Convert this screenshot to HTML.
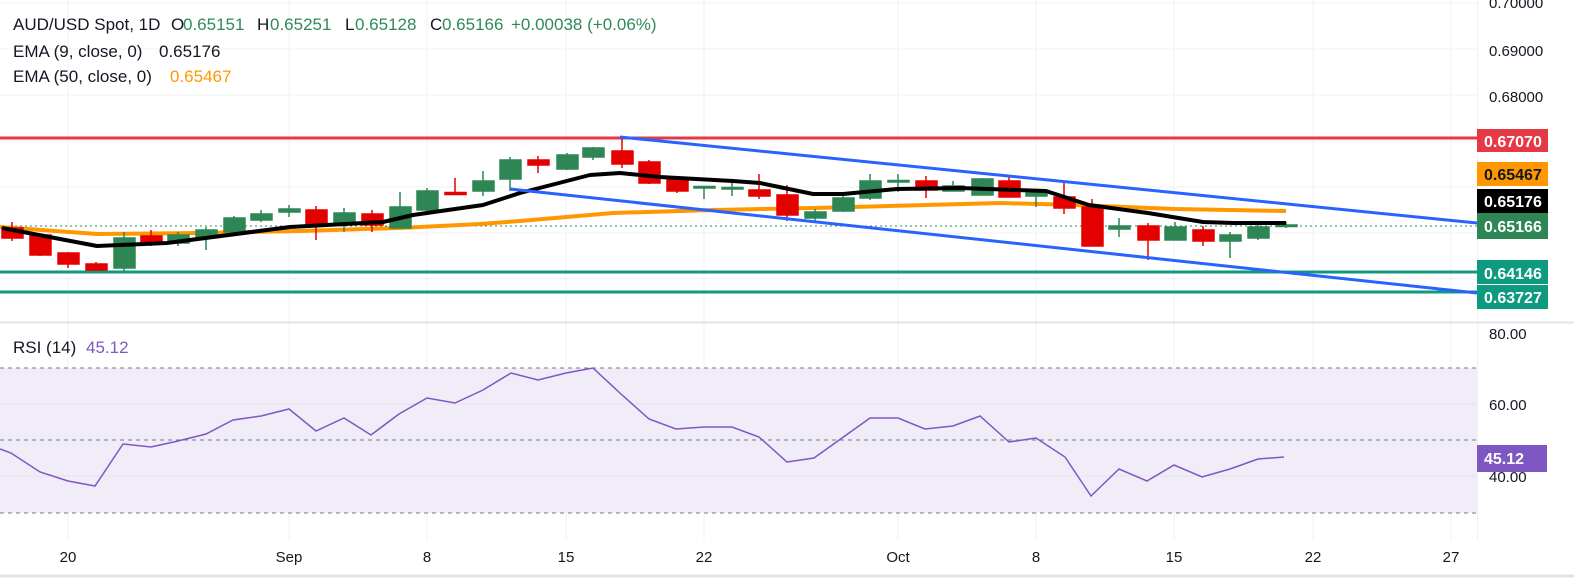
<!DOCTYPE html>
<html><head><meta charset="utf-8"><style>
html,body{margin:0;padding:0;background:#fff;}
svg{display:block;font-family:"Liberation Sans",sans-serif;}
</style></head><body>
<svg width="1574" height="578" viewBox="0 0 1574 578" xmlns="http://www.w3.org/2000/svg">
<rect width="1574" height="578" fill="#fff"/>
<g stroke="#f0f0f3" stroke-width="1">
<line x1="68" y1="0" x2="68" y2="540"/><line x1="289" y1="0" x2="289" y2="540"/><line x1="427" y1="0" x2="427" y2="540"/><line x1="566" y1="0" x2="566" y2="540"/><line x1="704" y1="0" x2="704" y2="540"/><line x1="898" y1="0" x2="898" y2="540"/><line x1="1036" y1="0" x2="1036" y2="540"/><line x1="1174" y1="0" x2="1174" y2="540"/><line x1="1313" y1="0" x2="1313" y2="540"/><line x1="1451" y1="0" x2="1451" y2="540"/>
<line x1="0" y1="3" x2="1477" y2="3"/><line x1="0" y1="49" x2="1477" y2="49"/><line x1="0" y1="95" x2="1477" y2="95"/><line x1="0" y1="141" x2="1477" y2="141"/><line x1="0" y1="187" x2="1477" y2="187"/><line x1="0" y1="233" x2="1477" y2="233"/><line x1="0" y1="279" x2="1477" y2="279"/>
</g>
<line x1="0" y1="322.5" x2="1574" y2="322.5" stroke="#e0e3eb" stroke-width="2"/>
<line x1="1477.5" y1="0" x2="1477.5" y2="540" stroke="#f0f0f3"/>
<line x1="0" y1="576" x2="1574" y2="576" stroke="#e0e3eb" stroke-width="3"/>
<line x1="0" y1="138" x2="1477" y2="138" stroke="#e53945" stroke-width="3"/>
<line x1="0" y1="272" x2="1477" y2="272" stroke="#0e9a7e" stroke-width="3"/>
<line x1="0" y1="292" x2="1477" y2="292" stroke="#0e9a7e" stroke-width="3"/>
<line x1="0" y1="226" x2="1477" y2="226" stroke="#2e8b57" stroke-width="1" stroke-dasharray="2,3"/>
<polyline fill="none" stroke="#ff9800" stroke-width="4" stroke-linejoin="round" points="0,227 97,234 200,233 300,231 400,228 480,224 520,221 613,213 713,210 813,208 1000,203 1077,205 1175,209 1286,211"/>
<g stroke-width="1.5">
<g stroke="#e50000" fill="#e50000">
<line x1="12" y1="222" x2="12" y2="241"/><rect x="2" y="228" width="21" height="10"/>
<line x1="40" y1="234" x2="40" y2="256"/><rect x="30" y="235" width="21" height="20"/>
<line x1="68" y1="252" x2="68" y2="268"/><rect x="58" y="253" width="21" height="11"/>
<line x1="96" y1="262" x2="96" y2="271"/><rect x="86" y="264" width="21" height="6"/>
<line x1="151" y1="230" x2="151" y2="246"/><rect x="141" y="236" width="21" height="6"/>
<line x1="316" y1="206" x2="316" y2="240"/><rect x="306" y="210" width="21" height="15"/>
<line x1="372" y1="210" x2="372" y2="232"/><rect x="362" y="214" width="21" height="11"/>
<line x1="455" y1="178" x2="455" y2="195"/><rect x="445" y="192.5" width="21" height="2"/>
<line x1="538" y1="156" x2="538" y2="173"/><rect x="528" y="160" width="21" height="5"/>
<line x1="622" y1="137" x2="622" y2="168"/><rect x="612" y="151" width="21" height="13"/>
<line x1="649" y1="160" x2="649" y2="184"/><rect x="639" y="162" width="21" height="21"/>
<line x1="677" y1="178" x2="677" y2="193"/><rect x="667" y="180" width="21" height="11"/>
<line x1="759" y1="174" x2="759" y2="199"/><rect x="749" y="190" width="21" height="6"/>
<line x1="787" y1="185" x2="787" y2="221"/><rect x="777" y="195" width="21" height="20"/>
<line x1="926" y1="176" x2="926" y2="198"/><rect x="916" y="181" width="21" height="9"/>
<line x1="1009" y1="176" x2="1009" y2="197"/><rect x="999" y="181" width="21" height="16"/>
<line x1="1064" y1="182" x2="1064" y2="214"/><rect x="1054" y="197" width="21" height="11"/>
<line x1="1092" y1="199" x2="1092" y2="246"/><rect x="1082" y="207" width="21" height="39"/>
<line x1="1148" y1="223" x2="1148" y2="260"/><rect x="1138" y="226" width="21" height="14"/>
<line x1="1203" y1="226" x2="1203" y2="246"/><rect x="1193" y="230" width="21" height="11"/>
</g>
<g stroke="#2e8654" fill="#2e8654">
<line x1="124" y1="232" x2="124" y2="271"/><rect x="114" y="238" width="21" height="30"/>
<line x1="178" y1="232" x2="178" y2="246"/><rect x="168" y="235" width="21" height="8"/>
<line x1="206" y1="227" x2="206" y2="250"/><rect x="196" y="230" width="21" height="7"/>
<line x1="234" y1="216" x2="234" y2="232"/><rect x="224" y="218" width="21" height="14"/>
<line x1="261" y1="210" x2="261" y2="222"/><rect x="251" y="214" width="21" height="6"/>
<line x1="289" y1="205" x2="289" y2="217"/><rect x="279" y="209" width="21" height="3"/>
<line x1="344" y1="208" x2="344" y2="232"/><rect x="334" y="213" width="21" height="11"/>
<line x1="400" y1="192" x2="400" y2="228"/><rect x="390" y="207" width="21" height="21"/>
<line x1="427" y1="188" x2="427" y2="212"/><rect x="417" y="191" width="21" height="19"/>
<line x1="483" y1="171" x2="483" y2="196"/><rect x="473" y="181" width="21" height="10"/>
<line x1="510" y1="157" x2="510" y2="191"/><rect x="500" y="160" width="21" height="19"/>
<line x1="567" y1="153" x2="567" y2="170"/><rect x="557" y="155" width="21" height="14"/>
<line x1="593" y1="147" x2="593" y2="160"/><rect x="583" y="148" width="21" height="9"/>
<line x1="704" y1="187" x2="704" y2="199"/><rect x="694" y="186.5" width="21" height="1.5"/>
<line x1="732" y1="180" x2="732" y2="196"/><rect x="722" y="187.5" width="21" height="1.5"/>
<line x1="815" y1="209" x2="815" y2="223"/><rect x="805" y="212" width="21" height="6"/>
<line x1="843" y1="196" x2="843" y2="212"/><rect x="833" y="198" width="21" height="13"/>
<line x1="870" y1="174" x2="870" y2="200"/><rect x="860" y="181" width="21" height="17"/>
<line x1="898" y1="174" x2="898" y2="192"/><rect x="888" y="180.5" width="21" height="1.5"/>
<line x1="953" y1="181" x2="953" y2="191"/><rect x="943" y="186" width="21" height="5"/>
<line x1="982" y1="178" x2="982" y2="195"/><rect x="972" y="179" width="21" height="16"/>
<line x1="1036" y1="192" x2="1036" y2="207"/><rect x="1026" y="193" width="21" height="3"/>
<line x1="1119" y1="218" x2="1119" y2="237"/><rect x="1109" y="226" width="21" height="3"/>
<line x1="1175" y1="222" x2="1175" y2="240"/><rect x="1165" y="227" width="21" height="13"/>
<line x1="1230" y1="232" x2="1230" y2="258"/><rect x="1220" y="235" width="21" height="6"/>
<line x1="1258" y1="223" x2="1258" y2="240"/><rect x="1248" y="227" width="21" height="11"/>
<line x1="1286" y1="222" x2="1286" y2="228"/><rect x="1276" y="225" width="21" height="1.5"/>
</g>
</g>
<polyline fill="none" stroke="#000" stroke-width="4" stroke-linejoin="round" points="2,228 97,246 167,243 290,227 383,222 413,215 483,205 520,193 590,175 620,173 660,177 733,181 760,183 813,194 843,194 897,189 960,188 1046,191 1089,205 1148,213 1203,222 1234,223 1286,223"/>
<line x1="620" y1="137" x2="1477" y2="223" stroke="#2962ff" stroke-width="3"/>
<line x1="510" y1="189" x2="1477" y2="293" stroke="#2962ff" stroke-width="3"/>
<!-- header -->
<g font-size="17" fill="#131722">
<text x="13" y="30">AUD/USD Spot, 1D</text>
<text x="171" y="30">O</text><text x="183" y="30" fill="#2e8b57">0.65151</text>
<text x="257" y="30">H</text><text x="270" y="30" fill="#2e8b57">0.65251</text>
<text x="345" y="30">L</text><text x="355" y="30" fill="#2e8b57">0.65128</text>
<text x="430" y="30">C</text><text x="442" y="30" fill="#2e8b57">0.65166</text>
<text x="511" y="30" fill="#2e8b57">+0.00038 (+0.06%)</text>
<text x="13" y="57">EMA (9, close, 0)</text><text x="159" y="57">0.65176</text>
<text x="13" y="82">EMA (50, close, 0)</text><text x="170" y="82" fill="#ff9800">0.65467</text>
<text x="13" y="353">RSI (14)</text><text x="86" y="353" fill="#7e57c2">45.12</text>
</g>
<g font-size="15" fill="#131722">
<text x="1489" y="8">0.70000</text>
<text x="1489" y="56">0.69000</text>
<text x="1489" y="102">0.68000</text>
</g>
<g font-size="16" font-weight="bold">
<rect x="1477" y="129" width="71" height="23" fill="#e53945"/><text x="1484" y="147" fill="#fff">0.67070</text>
<rect x="1477" y="162" width="71" height="24" fill="#ff9800"/><text x="1484" y="180" fill="#131722">0.65467</text>
<rect x="1477" y="189" width="71" height="24" fill="#000"/><text x="1484" y="207" fill="#fff">0.65176</text>
<rect x="1477" y="213" width="71" height="26" fill="#2e8654"/><text x="1484" y="232" fill="#fff">0.65166</text>
<rect x="1477" y="260" width="71" height="24" fill="#0e9a7e"/><text x="1484" y="279" fill="#fff">0.64146</text>
<rect x="1477" y="285" width="71" height="24" fill="#0e9a7e"/><text x="1484" y="303" fill="#fff">0.63727</text>
</g>
<rect x="0" y="368" width="1477" height="145" fill="#f0ecf8"/>
<g stroke="#e6e2ee"><line x1="0" y1="404" x2="1477" y2="404"/><line x1="0" y1="476" x2="1477" y2="476"/></g>
<g stroke="#787b86" stroke-dasharray="4,4"><line x1="0" y1="368" x2="1477" y2="368"/><line x1="0" y1="440" x2="1477" y2="440"/><line x1="0" y1="513" x2="1477" y2="513"/></g>
<polyline fill="none" stroke="#7e57c2" stroke-width="1.5" points="0,449 11,453 40,472 68,481 95,486 123,444 151,447 178,441 206,434 233,420 261,416 289,409 316,431 344,418 371,435 399,414 427,398 455,403 483,390 511,373 538,380 566,373 593,368 621,394 649,419 676,429 704,427 732,427 759,437 787,462 814,458 870,418 898,418 925,429 953,426 980,416 1009,442 1036,438 1065,457 1091,496 1119,469 1147,481 1174,465 1202,477 1230,469 1258,459 1284,457"/>
<g font-size="15" fill="#131722">
<text x="1489" y="339">80.00</text>
<text x="1489" y="410">60.00</text>
<text x="1489" y="482">40.00</text>
</g>
<rect x="1477" y="445" width="70" height="27" fill="#7e57c2"/>
<text x="1484" y="464" font-size="16" font-weight="bold" fill="#fff">45.12</text>
<g font-size="15" fill="#131722" text-anchor="middle">
<text x="68" y="562">20</text><text x="289" y="562">Sep</text><text x="427" y="562">8</text><text x="566" y="562">15</text><text x="704" y="562">22</text><text x="898" y="562">Oct</text><text x="1036" y="562">8</text><text x="1174" y="562">15</text><text x="1313" y="562">22</text><text x="1451" y="562">27</text>
</g>
</svg>
</body></html>
